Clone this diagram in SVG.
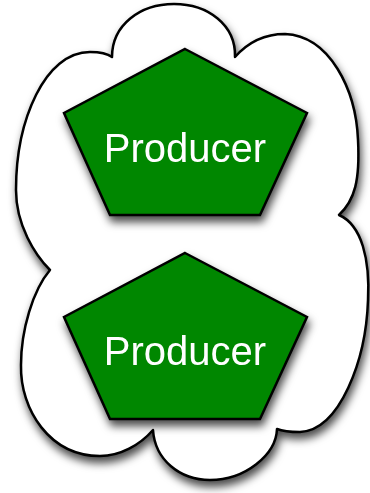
<svg xmlns="http://www.w3.org/2000/svg" width="370" height="493" viewBox="0 0 370 493">
  <defs>
    <filter id="shadow" x="-20%" y="-20%" width="140%" height="140%">
      <feDropShadow dx="2" dy="6" stdDeviation="4.5" flood-color="#000" flood-opacity="0.7"/>
    </filter>
  </defs>
  <style>
    .cloud { fill: #ffffff; stroke: #000; stroke-width: 2.5; stroke-linejoin: round; }
    .node { fill: #038703; stroke: #000; stroke-width: 2.5; stroke-linejoin: miter; }
    .label { font-family: "Liberation Sans", Arial, Helvetica, sans-serif; font-size: 40px; fill: #ffffff; text-anchor: middle; }
  </style>

  <!-- enclosing cloud -->
  <g id="cloud" filter="url(#shadow)">
    <path class="cloud" d="M112,57
      C112,25 140,4 174,4
      C208,4 236,25 235,57
      C250,40 268,34 285,34
      C330,36 356,90 358,140
      C360,180 355,200 339,215
      C362,225 370,260 368,300
      C366,360 340,430 300,432
      C290,432 282,431 277,429
      C276,455 245,480 210,480
      C180,480 155,460 153,430
      C140,445 120,456 100,456
      C50,456 20,410 21,365
      C21,330 33,290 50,270
      C35,255 16,225 16,190
      C16,120 45,52 90,52
      C100,52 108,54 112,57 Z"/>
  </g>

  <g id="producer1" filter="url(#shadow)">
    <polygon class="node" points="185,49 307,113 260,215 110,215 64,113"/>
    <text class="label" x="185" y="162">Producer</text>
  </g>

  <g id="producer2" filter="url(#shadow)">
    <polygon class="node" points="185,253 307,317 260,419 110,419 64,317"/>
    <text class="label" x="185" y="365">Producer</text>
  </g>

  <g id="connectors"></g>
</svg>
